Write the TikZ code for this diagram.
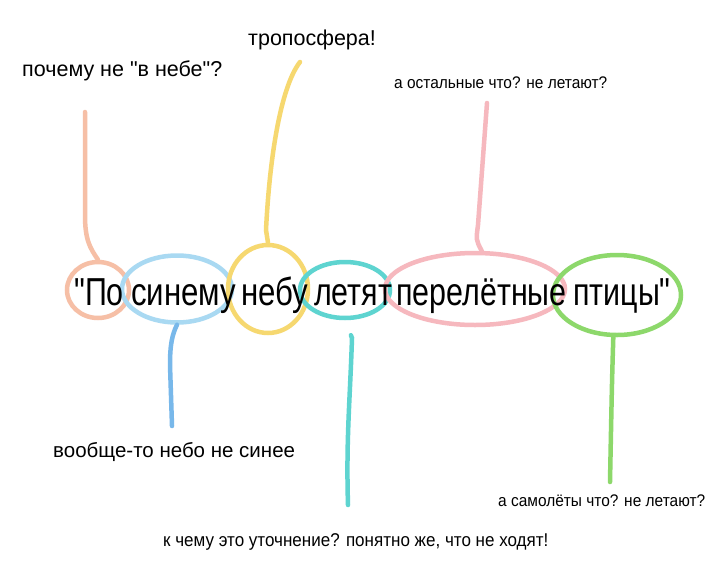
\documentclass[tikz,border=0pt]{standalone}
\usepackage{fontspec}
\setmainfont{Liberation Sans}
\newfontfamily\bigf[FakeStretch=0.78]{Liberation Sans}
\newfontfamily\bigfa[FakeStretch=0.80]{Liberation Sans}
\newfontfamily\labf{Liberation Sans}
\newfontfamily\smlf[FakeStretch=0.92]{Liberation Sans}
\usetikzlibrary{shapes.geometric}
\definecolor{cPeach}{HTML}{F6BFA6}
\definecolor{cSky}{HTML}{A9D9F2}
\definecolor{cSkyLine}{HTML}{78B8EA}
\definecolor{cYellow}{HTML}{F6D870}
\definecolor{cTeal}{HTML}{5ED4D0}
\definecolor{cPink}{HTML}{F6B8BE}
\definecolor{cGreen}{HTML}{8DD86B}
\begin{document}
\begin{tikzpicture}[x=1pt,y=-1pt,
  ell/.style={ellipse, line width=4.5pt, inner sep=0pt},
  word/.style={anchor=base west, inner sep=0pt, font=\bigf\fontsize{39}{44}\selectfont},
  worda/.style={word, font=\bigfa\fontsize{39}{44}\selectfont},
  lab/.style={anchor=base west, inner sep=0pt, font=\labf\fontsize{21.5}{26}\selectfont},
  labs/.style={anchor=base west, inner sep=0pt, font=\smlf\fontsize{16.8}{20}\selectfont},
  link/.style={line width=4.5pt, line cap=round}]
\useasboundingbox (0,0) rectangle (720,576);
\fill[white] (0,0) rectangle (720,576);
% ellipses
\node[ell, draw=cPeach, minimum width=62pt, minimum height=56pt] (e1) at (98,290) {};
\node[ell, draw=cSky, minimum width=110pt, minimum height=67pt] (e2) at (177,289) {};
\node[ell, draw=cYellow, minimum width=80pt, minimum height=88pt] (e3) at (268,289) {};
\node[ell, draw=cTeal, minimum width=90pt, minimum height=56pt] (e4) at (345,290) {};
\node[ell, draw=cPink, minimum width=180pt, minimum height=72pt] (e5) at (475,289) {};
\node[ell, draw=cGreen, minimum width=128pt, minimum height=80pt] (e6) at (617,295) {};
% words
\node[word] (w1) at (74,305) {"По};
\node[worda] (w2) at (131,305) {синему};
\node[worda] (w3) at (241,305) {небу};
\node[word] (w4) at (314,305) {летят};
\node[word] (w5) at (396,305) {перелётные};
\node[word] (w6) at (573,305) {птицы"};
% labels
\node[lab] (l1) at (22,76) {почему не "в небе"?};
\node[lab] (l3) at (248,45) {тропосфера!};
\node[labs] (l5) at (394,88) {а остальные что? не летают?};
\node[lab, font=\labf\fontsize{20.5}{25}\selectfont] (l2) at (53,457) {вообще-то небо не синее};
\node[labs] (l6) at (498,506) {а самолёты что? не летают?};
\node[labs, font=\smlf\fontsize{18.5}{22}\selectfont] (l4) at (163,546) {к чему это уточнение? понятно же, что не ходят!};
% connector ends
\coordinate (t1) at (85,112);
\coordinate (t3) at (300,62);
\coordinate (t5) at (487,103);
\coordinate (t2) at (172,426);
\coordinate (t4) at (348,505);
\coordinate (t6) at (610,482);
% connectors
\draw[link, cPeach] (e1.north) .. controls (90,248) and (85,240) .. (85,215) -- (t1);
\draw[link, cYellow] (e3.north) -- (266,230) .. controls (270,150) and (282,85) .. (t3);
\draw[link, cPink] (e5.80) .. controls (476,240) .. (478,225) -- (t5);
\draw[link, cSkyLine] (e2.south) .. controls (172,335) and (170,345) .. (170,365) -- (t2);
\draw[link, cTeal, shorten <=16pt] (e4.south) -- (352,338) .. controls (350,400) and (346,440) .. (t4);
\draw[link, cGreen] (e6.-95) .. controls (612,380) .. (t6);
\end{tikzpicture}
\end{document}
